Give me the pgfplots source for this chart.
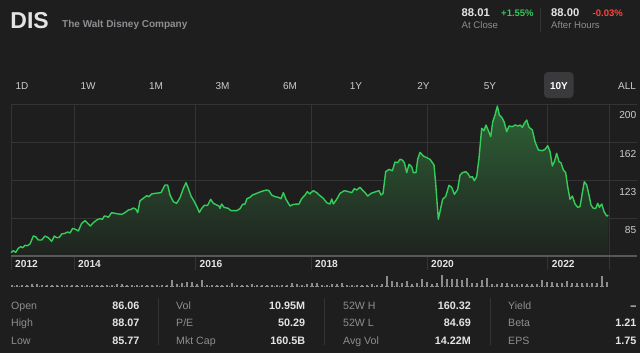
\documentclass[border=0pt]{standalone}
\usepackage{fontspec}
\setmainfont{Liberation Sans}
\usepackage{pgfplots}
\usepackage{pgfplotstable}
\pgfplotsset{compat=1.18}
\definecolor{bgc}{RGB}{30,30,30}
\definecolor{gridc}{RGB}{52,52,52}
\definecolor{axisc}{RGB}{88,88,88}
\definecolor{linec}{RGB}{52,205,90}
\definecolor{filltop}{RGB}{46,98,54}
\definecolor{fillbot}{RGB}{31,34,31}
\definecolor{txtw}{RGB}{228,228,228}
\definecolor{tabt}{RGB}{205,205,205}
\definecolor{txtg}{RGB}{142,142,147}
\definecolor{upg}{RGB}{52,199,89}
\definecolor{dnr}{RGB}{255,69,58}
\definecolor{tabbox}{RGB}{58,58,60}
\definecolor{volc}{RGB}{140,140,140}
\newcommand{\fs}[1]{\fontsize{#1bp}{#1bp}\selectfont}

\pgfplotstableread{
year price
2012.936 50.6
2012.975 52.6
2013.015 50.9
2013.060 55.0
2013.099 56.6
2013.133 55.6
2013.172 58.0
2013.212 57.6
2013.257 59.3
2013.313 67.3
2013.353 66.7
2013.397 63.3
2013.454 63.3
2013.510 67.3
2013.566 65.7
2013.623 62.0
2013.668 67.3
2013.707 65.7
2013.752 66.0
2013.792 69.4
2013.848 70.0
2013.893 71.4
2013.932 70.4
2013.978 75.0
2014.028 74.0
2014.073 72.4
2014.130 80.1
2014.186 82.7
2014.231 80.1
2014.276 77.4
2014.327 80.7
2014.383 83.4
2014.439 84.8
2014.479 84.1
2014.512 87.4
2014.552 87.1
2014.580 86.1
2014.636 90.8
2014.693 90.1
2014.749 89.5
2014.805 89.1
2014.861 90.8
2014.918 93.5
2014.963 94.1
2015.002 95.5
2015.042 94.5
2015.076 90.8
2015.115 102.8
2015.171 105.2
2015.228 107.9
2015.267 106.9
2015.312 109.6
2015.368 110.2
2015.470 110.9
2015.537 118.6
2015.582 118.6
2015.622 108.5
2015.678 101.8
2015.734 100.2
2015.791 105.9
2015.847 115.2
2015.892 120.9
2015.931 115.2
2015.976 107.5
2016.033 101.8
2016.089 95.1
2016.117 91.1
2016.157 95.1
2016.201 98.2
2016.258 98.2
2016.309 104.2
2016.354 100.2
2016.410 98.5
2016.449 97.5
2016.466 95.1
2016.494 99.5
2016.534 96.2
2016.607 95.1
2016.652 92.8
2016.748 92.8
2016.804 94.8
2016.849 99.2
2016.889 99.5
2016.922 104.9
2016.973 106.2
2017.012 108.5
2017.086 110.2
2017.170 112.2
2017.255 113.6
2017.294 112.9
2017.339 108.5
2017.395 106.9
2017.452 106.2
2017.497 104.9
2017.536 110.9
2017.581 104.2
2017.649 97.5
2017.705 99.2
2017.801 99.5
2017.846 104.9
2017.902 108.5
2017.941 111.9
2017.986 109.6
2018.003 110.9
2018.043 112.9
2018.099 110.9
2018.155 107.9
2018.212 105.2
2018.268 100.8
2018.324 99.5
2018.353 104.5
2018.381 99.5
2018.437 104.2
2018.493 110.2
2018.567 112.9
2018.634 111.9
2018.691 110.9
2018.736 114.9
2018.775 113.6
2018.831 116.3
2018.871 113.6
2018.916 110.9
2018.961 107.5
2019.017 110.2
2019.084 111.6
2019.152 112.9
2019.186 108.5
2019.220 110.2
2019.265 132.0
2019.321 134.3
2019.378 133.0
2019.422 141.7
2019.467 141.0
2019.507 144.4
2019.546 143.7
2019.580 141.0
2019.620 131.0
2019.659 139.4
2019.704 137.0
2019.732 131.0
2019.777 131.0
2019.805 144.4
2019.845 151.4
2019.901 147.7
2019.957 146.1
2020.014 144.4
2020.081 138.7
2020.109 120.3
2020.154 84.1
2020.194 95.1
2020.228 104.5
2020.278 106.9
2020.334 118.3
2020.380 116.3
2020.425 109.2
2020.481 114.2
2020.520 128.5
2020.560 131.0
2020.616 132.0
2020.661 129.6
2020.689 126.3
2020.729 127.0
2020.762 122.9
2020.802 127.0
2020.841 145.4
2020.886 175.5
2020.926 173.2
2020.959 178.9
2020.999 173.2
2021.039 167.2
2021.073 182.2
2021.112 188.9
2021.151 198.0
2021.185 188.9
2021.225 186.6
2021.264 182.2
2021.309 172.2
2021.348 177.9
2021.405 177.2
2021.450 178.9
2021.506 177.9
2021.534 178.9
2021.573 176.6
2021.607 180.6
2021.647 183.9
2021.686 176.6
2021.742 173.9
2021.787 162.1
2021.844 153.8
2021.911 153.1
2021.956 154.4
2022.002 158.1
2022.041 152.1
2022.080 137.7
2022.114 142.0
2022.153 150.4
2022.193 142.0
2022.226 141.0
2022.266 133.7
2022.305 131.0
2022.339 116.9
2022.378 104.2
2022.418 107.5
2022.463 99.5
2022.508 96.2
2022.547 96.8
2022.587 110.9
2022.620 121.9
2022.660 118.6
2022.699 108.5
2022.733 98.5
2022.773 95.1
2022.812 95.1
2022.846 100.2
2022.874 96.2
2022.914 99.5
2022.953 91.8
2022.998 87.4
2023.026 88.1
}\price

\begin{document}
\begin{tikzpicture}[x=1bp,y=1bp]
\path[use as bounding box] (0,0) rectangle (640,-353);
\fill[bgc] (0,0) rectangle (640,-353);

% header
\node[anchor=base west, inner sep=0pt, text=txtw, font=\bfseries\fs{23}] at (10.2,-28.3) {DIS};
\node[anchor=base west, inner sep=0pt, text=txtg, font=\bfseries\fs{10}] at (62,-27.5) {The Walt Disney Company};
\node[anchor=base west, inner sep=0pt, text=txtw, font=\bfseries\fs{11.2}] at (461.5,-16.7) {88.01};
\node[anchor=base west, inner sep=0pt, text=upg, font=\bfseries\fs{9.5}] at (501,-16.7) {+1.55\%};
\node[anchor=base west, inner sep=0pt, text=txtg, font=\fs{9.6}] at (461.5,-28.3) {At Close};
\draw[gridc, line width=0.8bp] (540.7,-8) -- (540.7,-32);
\node[anchor=base west, inner sep=0pt, text=txtw, font=\bfseries\fs{11.2}] at (551,-16.7) {88.00};
\node[anchor=base west, inner sep=0pt, text=dnr, font=\bfseries\fs{9.5}] at (592.5,-16.7) {-0.03\%};
\node[anchor=base west, inner sep=0pt, text=txtg, font=\fs{9.6}] at (551,-28.3) {After Hours};

% range tabs
\fill[tabbox, rounded corners=4bp] (544,-72) rectangle (573.5,-98);
\foreach \x/\t in {22/1D, 88/1W, 156/1M, 222.5/3M, 290/6M, 356/1Y, 423.5/2Y, 490/5Y, 627/ALL}
  \node[anchor=base, inner sep=0pt, text=tabt, font=\fs{10}] at (\x,-89) {\t};
\node[anchor=base, inner sep=0pt, text=white, font=\bfseries\fs{10}] at (559,-89) {10Y};

% price chart
\begin{axis}[at={(11bp,-256bp)}, anchor=south west, scale only axis,
  width=626bp, height=152bp,
  xmin=2012.936, xmax=2023.51, ymin=47.24, ymax=200,
  axis line style={draw=none}, major tick length=0pt, tick style={draw=none},
  grid=major, grid style={gridc, line width=0.8bp},
  xtick={2012.936,2014,2016.052,2018.003,2019.963,2022.002,2023.037},
  xticklabels={2012,2014,2016,2018,2020,2022,{}},
  ytick={85.1,123.3,161.5,200},
  yticklabels={85,123,162,200},
  yticklabel pos=right,
  /pgf/number format/assume math mode=true,
  xticklabel style={anchor=north west, inner sep=0pt, xshift=4bp, yshift=-4.5bp, text=txtw, font=\bfseries\fs{10.2}},
  yticklabel style={anchor=north east, inner sep=0pt, xshift=-0.5bp, yshift=-7.6bp, text=tabt, font=\fs{10.2}},
  clip=false]
\addplot[draw=none, top color=filltop, bottom color=fillbot] table[x=year, y=price] {\price} \closedcycle;
\addplot[linec, line width=1.4bp, line join=round, mark=none] table[x=year, y=price] {\price};
\draw[axisc, line width=1.5bp] (rel axis cs:0,0) -- (rel axis cs:1,0);
\end{axis}
\foreach \x in {11,74,195.5,311,427,547.7,609}
  \draw[gridc, line width=0.8bp] (\x,-257) -- (\x,-270);

% volume
\draw[volc, dotted, line width=0.8bp] (11,-286.5) -- (607,-286.5);
\begin{axis}[at={(11bp,-286.5bp)}, anchor=south west, scale only axis,
  width=598bp, height=12bp, xmin=-0.2, xmax=119.4, ymin=0, ymax=12, hide axis]
\addplot[ycomb, volc, line width=1.1bp, mark=none] coordinates {
(0,1.5)(1,1.5)(2,2)(3,1.5)(4,2.5)(5,3)(6,2)(7,1.5)(8,2)(9,1.5)
(10,1.5)(11,2)(12,1.5)(13,2)(14,1.5)(15,1.5)(16,2)(17,1.5)(18,1.5)(19,1.5)
(20,2)(21,2.5)(22,2.5)(23,1.5)(24,2)(25,1.5)(26,2)(27,1.5)(28,2)(29,1.5)
(30,2)(31,2)(32,6.5)(33,3)(34,3.5)(35,5)(36,5)(37,3)(38,6.5)(39,2)
(40,2)(41,1.5)(42,2)(43,2)(44,4)(45,2)(46,2)(47,2)(48,2.5)(49,2)
(50,2)(51,1.5)(52,2)(53,1.5)(54,2)(55,2)(56,4)(57,3)(58,2)(59,2.5)
(60,4)(61,4)(62,2)(63,2)(64,2.5)(65,3)(66,4)(67,2)(68,2)(69,1.5)
(70,2)(71,2)(72,2.5)(73,2)(74,3)(75,11)(76,6)(77,5)(78,4)(79,5.5)
(80,3)(81,4)(82,8)(83,5)(84,3)(85,4)(86,12)(87,8)(88,7.5)(89,8)
(90,7)(91,8.5)(92,4)(93,3.5)(94,7)(95,9)(96,3)(97,3)(98,3.5)(99,4)
(100,3)(101,2.5)(102,3)(103,2.5)(104,3)(105,3)(106,7)(107,5)(108,4.5)(109,4)
(110,4)(111,6)(112,4)(113,3.5)(114,3.5)(115,4)(116,3.5)(117,4)(118,11)(119,5)
};
\end{axis}

% stats
\foreach \x in {158,324,490}
  \draw[gridc, line width=0.8bp] (\x,-298) -- (\x,-345);
\foreach \x/\y/\t in {11/309/Open, 11/326.5/High, 11/344/Low,
  176/309/Vol, 176/326.5/P\slash E, 176/344/Mkt Cap,
  343/309/52W H, 343/326.5/52W L, 343/344/Avg Vol,
  508/309/Yield, 508/326.5/Beta, 508/344/EPS}
  \node[anchor=base west, inner sep=0pt, text=txtg, font=\fs{10.6}] at (\x,-\y) {\t};
\foreach \x/\y/\t in {139.6/309/86.06, 139.6/326.5/88.07, 139.6/344/85.77,
  305.3/309/10.95M, 305.3/326.5/50.29, 305.3/344/160.5B,
  471/309/160.32, 471/326.5/84.69, 471/344/14.22M,
  636.5/309/--, 636.5/326.5/1.21, 636.5/344/1.75}
  \node[anchor=base east, inner sep=0pt, text=txtw, font=\bfseries\fs{10.8}] at (\x,-\y) {\t};
\end{tikzpicture}
\end{document}
